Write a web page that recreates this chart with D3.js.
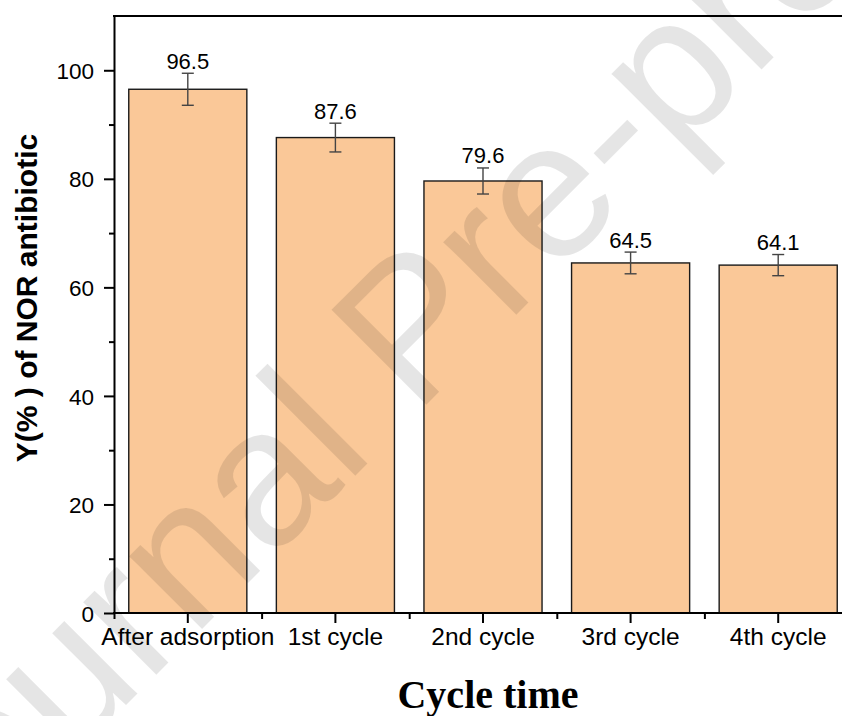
<!DOCTYPE html>
<meta charset="utf-8">
<title>Cycle time</title>
<style>
  body { margin: 0; background: #fff; }
  svg { display: block; }
  .axis path, .axis line { stroke: #000; stroke-width: 2px; }
  .axis text { font-family: "Liberation Sans", Arial, sans-serif; fill: #000; }
  .bar { fill: #FAC898; stroke: #1a1a1a; stroke-width: 1.4px; }
  .err { stroke: #444; stroke-width: 1.4px; fill: none; }
  .val { font-family: "Liberation Sans", Arial, sans-serif; font-size: 22px; text-anchor: middle; }
</style>
<body>
<script src="https://d3js.org/d3.v7.min.js"></script>
<script>
  var categories = ["After adsorption", "1st cycle", "2nd cycle", "3rd cycle", "4th cycle"];
  var values = [96.5, 87.6, 79.6, 64.5, 64.1];
  var errors = [2.95, 2.65, 2.4, 2.0, 1.95];
  var yMajor = [0, 20, 40, 60, 80, 100];
  var yMinor = [10, 30, 50, 70, 90];

  var W = 842, H = 716;
  var plot = { left: 114, right: 852, top: 16, bottom: 613 };

  var svg = d3.select("body").append("svg")
          .attr("width", W)
          .attr("height", H);

  var x = d3.scaleBand()
          .domain(categories)
          .range([plot.left, plot.right])
          .paddingInner(0.2)
          .paddingOuter(0.1);

  var y = d3.scaleLinear()
          .domain([0, 110])
          .range([plot.bottom, plot.top]);

  var data = categories.map(function(c, i) {
      return { cat: c, v: values[i], e: errors[i] };
  });

  // bars
  svg.append("g").selectAll("rect")
          .data(data)
          .enter().append("rect")
          .attr("class", "bar")
          .attr("x", function(d) { return x(d.cat); })
          .attr("width", x.bandwidth())
          .attr("y", function(d) { return y(d.v); })
          .attr("height", function(d) { return y(0) - y(d.v); });

  // error bars
  var eb = svg.append("g").selectAll("g")
          .data(data)
          .enter().append("g")
          .attr("class", "err")
          .attr("transform", function(d) { return "translate(" + (x(d.cat) + x.bandwidth() / 2) + ",0)"; });
  eb.append("line")
          .attr("y1", function(d) { return y(d.v + d.e); })
          .attr("y2", function(d) { return y(d.v - d.e); });
  eb.append("line")
          .attr("x1", -6).attr("x2", 6)
          .attr("y1", function(d) { return y(d.v + d.e); })
          .attr("y2", function(d) { return y(d.v + d.e); });
  eb.append("line")
          .attr("x1", -6).attr("x2", 6)
          .attr("y1", function(d) { return y(d.v - d.e); })
          .attr("y2", function(d) { return y(d.v - d.e); });

  svg.append("g").selectAll("text")
          .data(data)
          .enter().append("text")
          .attr("class", "val")
          .attr("x", function(d) { return x(d.cat) + x.bandwidth() / 2; })
          .attr("y", function(d) { return y(d.v + d.e) - 4.5; })
          .text(function(d) { return d.v.toFixed(1); });

  // y axis, major + minor
  svg.append("g")
          .attr("class", "axis")
          .attr("transform", "translate(" + plot.left + ",0)")
          .call(d3.axisLeft(y).tickValues(yMinor).tickSize(5).tickFormat(""))
          .call(function(g) { g.select(".domain").remove(); });

  svg.append("g")
          .attr("class", "axis")
          .attr("transform", "translate(" + plot.left + ",0)")
          .call(d3.axisLeft(y).tickValues(yMajor).tickSize(10).tickSizeOuter(0).tickPadding(10))
          .call(function(g) { g.selectAll("text").style("font-size", "22.5px").attr("dy", "0.36em"); });

  // x axis, minor ticks sit between the bars
  var xMinor = d3.scaleLinear().domain([0, categories.length]).range([plot.left, plot.right]);
  svg.append("g")
          .attr("class", "axis")
          .attr("transform", "translate(0," + plot.bottom + ")")
          .call(d3.axisBottom(xMinor).tickValues(d3.range(0, categories.length)).tickSize(6).tickFormat(""))
          .call(function(g) { g.select(".domain").remove(); });

  svg.append("g")
          .attr("class", "axis")
          .attr("transform", "translate(0," + plot.bottom + ")")
          .call(d3.axisBottom(x).tickSize(10).tickSizeOuter(0).tickPadding(5))
          .call(function(g) {
              g.select(".domain").attr("d", "M" + (plot.left - 1) + ",0H" + plot.right);
              g.selectAll("text").style("font-size", "24.5px").attr("dy", "0.71em");
          });

  // top frame line
  svg.append("line")
          .attr("x1", plot.left - 1).attr("x2", plot.right)
          .attr("y1", plot.top).attr("y2", plot.top)
          .attr("stroke", "#000")
          .attr("stroke-width", 2);

  svg.append("text")
          .attr("transform", "translate(37,298) rotate(-90)")
          .attr("text-anchor", "middle")
          .style("font-family", "'Liberation Sans', Arial, sans-serif")
          .style("font-weight", "bold")
          .style("font-size", "30px")
          .text("Y(% ) of NOR antibiotic");

  svg.append("text")
          .attr("x", (plot.left + plot.right) / 2 + 5)
          .attr("y", 708)
          .attr("text-anchor", "middle")
          .style("font-family", "'Liberation Serif', 'Times New Roman', serif")
          .style("font-weight", "bold")
          .style("font-size", "40px")
          .text("Cycle time");

  // watermark
  svg.append("text")
          .attr("transform", "translate(457,374) rotate(-45)")
          .attr("text-anchor", "middle")
          .style("font-family", "'Liberation Sans', Arial, sans-serif")
          .style("font-size", "195px")
          .style("fill", "#000")
          .style("fill-opacity", 0.1)
          .text("Journal Pre-proof");
</script>
</body>
